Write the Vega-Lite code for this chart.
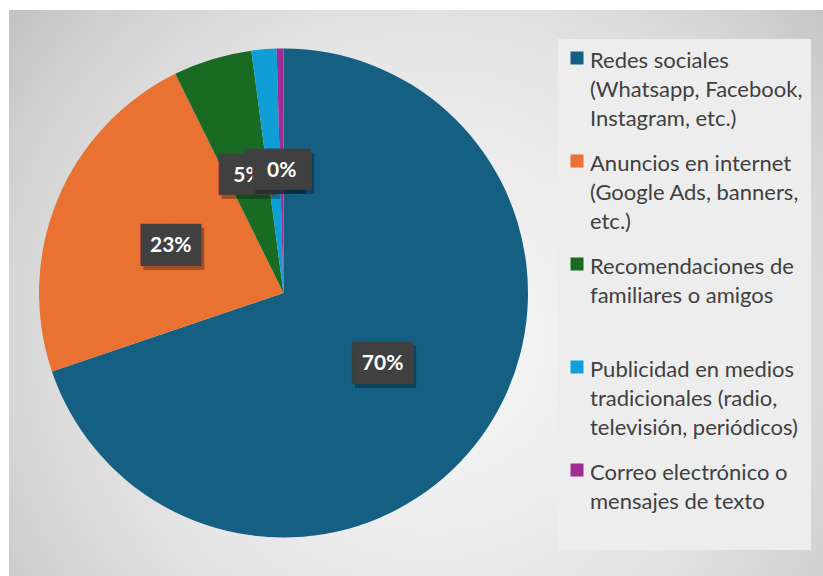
{
  "$schema": "https://vega.github.io/schema/vega-lite/v6.json",
  "background": "white",
  "padding": {"left": 9, "top": 10, "right": 0, "bottom": 0},
  "autosize": {"type": "pad"},
  "spacing": 0,
  "config": {
    "view": {"stroke": null},
    "concat": {"spacing": 0}
  },
  "datasets": {
    "canales": [
      {"category": "Redes sociales\n(Whatsapp, Facebook,\nInstagram, etc.)", "share": 0.698},
      {"category": "Anuncios en internet\n(Google Ads, banners,\netc.)", "share": 0.229},
      {"category": "Recomendaciones de\nfamiliares o amigos", "share": 0.052},
      {"category": "Publicidad en medios\ntradicionales (radio,\ntelevisión, periódicos)", "share": 0.0165},
      {"category": "Correo electrónico o\nmensajes de texto", "share": 0.0045}
    ]
  },
  "resolve": {"scale": {"color": "independent"}},
  "hconcat": [
    {
      "width": 549,
      "height": 566,
      "view": {
        "stroke": null,
        "fill": {
          "gradient": "radial",
          "x1": 0.759, "y1": 0.583, "r1": 0,
          "x2": 0.759, "y2": 0.583, "r2": 0.936,
          "stops": [
            {"offset": 0, "color": "#f8f8f8"},
            {"offset": 0.55, "color": "#e6e6e6"},
            {"offset": 0.8, "color": "#d5d5d5"},
            {"offset": 1, "color": "#c3c3c3"}
          ]
        }
      },
      "data": {"name": "canales"},
      "layer": [
        {
          "mark": {"type": "arc", "outerRadius": 244.5, "stroke": null},
          "encoding": {
            "theta": {"field": "share", "type": "quantitative", "stack": true},
            "order": {"field": "share", "type": "quantitative", "sort": "descending"},
            "color": {
              "field": "category", "type": "nominal", "sort": null, "legend": null,
              "scale": {"range": ["#156082", "#E97132", "#196B24", "#0F9ED5", "#A02B93"]}
            }
          }
        },
        {
          "mark": {"type": "text", "radius": 122, "font": "DejaVu Sans", "baseline": "middle", "align": "center", "dx": 3, "dy": 4, "fill": "#000000"},
          "encoding": {
            "theta": {"field": "share", "type": "quantitative", "stack": true},
            "order": {"field": "share", "type": "quantitative", "sort": "descending"},
            "detail": {"field": "category", "type": "nominal"},
            "text": {"value": "▕██▏"},
            "size": {"condition": {"test": "datum.share >= 0.1", "value": 35.5}, "value": 34.5},
            "opacity": {"condition": {"test": "datum.share < 0.01", "value": 0}, "value": 0.3}
          }
        },
        {
          "mark": {"type": "text", "radius": 122, "font": "DejaVu Sans", "baseline": "middle", "align": "center", "fill": "#404040"},
          "encoding": {
            "theta": {"field": "share", "type": "quantitative", "stack": true},
            "order": {"field": "share", "type": "quantitative", "sort": "descending"},
            "detail": {"field": "category", "type": "nominal"},
            "text": {"value": "▕██▏"},
            "size": {"condition": {"test": "datum.share >= 0.1", "value": 35.5}, "value": 34.5},
            "opacity": {"condition": {"test": "datum.share < 0.01", "value": 0}, "value": 1}
          }
        },
        {
          "mark": {"type": "text", "radius": 122, "font": "Lato", "fontWeight": "bold", "fontSize": 21, "baseline": "middle", "align": "center", "fill": "#ffffff"},
          "encoding": {
            "theta": {"field": "share", "type": "quantitative", "stack": true},
            "order": {"field": "share", "type": "quantitative", "sort": "descending"},
            "detail": {"field": "category", "type": "nominal"},
            "text": {"field": "share", "type": "quantitative", "format": ".0%"},
            "opacity": {"condition": {"test": "datum.share < 0.01", "value": 0}, "value": 1}
          }
        },
        {
          "mark": {"type": "text", "radius": 122, "font": "DejaVu Sans", "baseline": "middle", "align": "center", "dx": 3, "dy": 4, "fill": "#000000"},
          "encoding": {
            "theta": {"field": "share", "type": "quantitative", "stack": true},
            "order": {"field": "share", "type": "quantitative", "sort": "descending"},
            "detail": {"field": "category", "type": "nominal"},
            "text": {"value": "▕██▏"},
            "size": {"condition": {"test": "datum.share >= 0.1", "value": 35.5}, "value": 34.5},
            "opacity": {"condition": {"test": "datum.share < 0.01", "value": 0.3}, "value": 0}
          }
        },
        {
          "mark": {"type": "text", "radius": 122, "font": "DejaVu Sans", "baseline": "middle", "align": "center", "fill": "#404040"},
          "encoding": {
            "theta": {"field": "share", "type": "quantitative", "stack": true},
            "order": {"field": "share", "type": "quantitative", "sort": "descending"},
            "detail": {"field": "category", "type": "nominal"},
            "text": {"value": "▕██▏"},
            "size": {"condition": {"test": "datum.share >= 0.1", "value": 35.5}, "value": 34.5},
            "opacity": {"condition": {"test": "datum.share < 0.01", "value": 1}, "value": 0}
          }
        },
        {
          "mark": {"type": "text", "radius": 122, "font": "Lato", "fontWeight": "bold", "fontSize": 21, "baseline": "middle", "align": "center", "fill": "#ffffff"},
          "encoding": {
            "theta": {"field": "share", "type": "quantitative", "stack": true},
            "order": {"field": "share", "type": "quantitative", "sort": "descending"},
            "detail": {"field": "category", "type": "nominal"},
            "text": {"field": "share", "type": "quantitative", "format": ".0%"},
            "opacity": {"condition": {"test": "datum.share < 0.01", "value": 1}, "value": 0}
          }
        }
      ]
    },
    {
      "width": 265,
      "height": 566,
      "view": {
        "stroke": null,
        "fill": {
          "gradient": "radial",
          "x1": 0.04, "y1": 0.583, "r1": 0,
          "x2": 0.04, "y2": 0.583, "r2": 0.936,
          "stops": [
            {"offset": 0, "color": "#f8f8f8"},
            {"offset": 0.55, "color": "#e6e6e6"},
            {"offset": 0.8, "color": "#d5d5d5"},
            {"offset": 1, "color": "#c3c3c3"}
          ]
        }
      },
      "data": {"name": "canales"},
      "mark": {"type": "square", "opacity": 0},
      "encoding": {
        "color": {
          "field": "category", "type": "nominal", "sort": null,
          "scale": {"range": ["#156082", "#E97132", "#196B24", "#0F9ED5", "#A02B93"]},
          "legend": {
            "orient": "none",
            "legendX": 0,
            "legendY": 29,
            "title": null,
            "fillColor": "#ededed",
            "padding": 8,
            "rowPadding": 20,
            "symbolType": "square",
            "symbolSize": 169,
            "symbolOpacity": 1,
            "symbolStrokeWidth": 0,
            "labelFont": "Lato",
            "labelFontSize": 22,
            "labelColor": "#404040",
            "labelLimit": 400,
            "labelOffset": 2,
            "labelBaseline": "top",
            "labelExpr": "length(split(datum.label, '\\n')) == 2 ? split(datum.label + '\\n', '\\n') : split(datum.label, '\\n')",
            "encode": {"labels": {"update": {"dy": {"value": -7.5}, "lineHeight": {"value": 29}}}}
          }
        }
      }
    }
  ]
}
